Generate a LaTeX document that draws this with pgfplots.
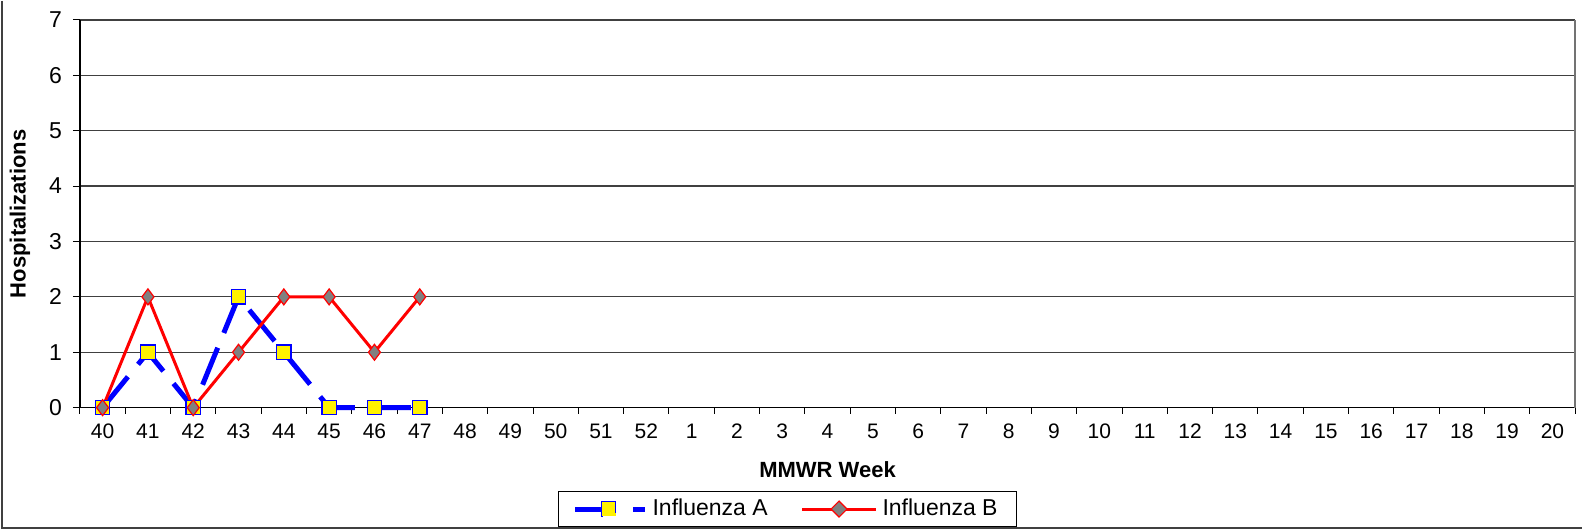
\documentclass[border=0pt]{standalone}
\usepackage{pgfplots}
\pgfplotsset{compat=1.18}
\usepackage{fontspec}
\setmainfont{Liberation Sans}
\begin{document}
\begin{tikzpicture}
\path (-40pt,-61pt) rectangle (751.5pt,203.5pt);
\draw[black!75, line width=0.9pt] (-39pt,203.5pt) -- (-39pt,-60pt) -- (751.5pt,-60pt);
\begin{axis}[
  at={(0,0)}, anchor=south west,
  scale only axis, width=748pt, height=194pt,
  xmin=-0.5, xmax=32.5, ymin=0, ymax=7,
  axis lines*=left, axis line style={-, black, line width=0.6pt},
  xtick={0,...,32},
  xticklabels={40,41,42,43,44,45,46,47,48,49,50,51,52,1,2,3,4,5,6,7,8,9,10,11,12,13,14,15,16,17,18,19,20},
  minor xtick={-0.5,0.5,...,32.5},
  ytick={0,...,7},
  tick align=outside,
  major tick length=3.5pt, minor tick length=3pt,
  major x tick style={draw=none},
  minor x tick style={black, line width=0.5pt},
  major y tick style={black, line width=0.5pt},
  ymajorgrids, major grid style={black!75, line width=0.6pt},
  /pgf/number format/assume math mode=true,
  xticklabel style={font=\fontsize{10.5}{12}\selectfont, yshift=-1pt},
  yticklabel style={font=\fontsize{11.5}{13}\selectfont, xshift=-2pt},
  xlabel={\textbf{MMWR Week}},
  ylabel={\textbf{Hospitalizations}},
  label style={font=\fontsize{11}{13}\selectfont},
  xlabel style={at={(axis description cs:0.5,0)}, anchor=center, yshift=-31pt},
  ylabel style={at={(axis description cs:0,0.5)}, anchor=center, yshift=30pt},
  legend columns=2,
  legend style={at={(axis description cs:0.4733,-0.2139)}, anchor=north,
    draw=black, line width=0.6pt, font=\fontsize{11.5}{14}\selectfont,
    inner xsep=7pt, inner ysep=2pt,
    nodes={inner xsep=2.5pt},
    /tikz/every even column/.append style={column sep=14pt}},
  clip=false,
]
\draw[black!55, line width=0.8pt] (axis cs:32.5,0) -- (axis cs:32.5,7);
\addplot[blue, line width=2.5pt, dash pattern=on 20pt off 8pt,
  mark=square*, mark size=3.6pt,
  mark options={solid, fill=yellow, draw=blue, line width=0.6pt},
  legend image code/.code={
    \draw[blue, line width=2.5pt] (0pt,0pt) -- (20pt,0pt);
    \draw[blue, line width=2.5pt] (29pt,0pt) -- (35pt,0pt);
    \draw[fill=yellow, draw=blue, line width=0.6pt] (13pt,-3.6pt) rectangle (20.2pt,3.6pt);
  }]
  coordinates {(0,0) (1,1) (2,0) (3,2) (4,1) (5,0) (6,0) (7,0)};
\addlegendentry{Influenza A}
\addplot[red, line width=1.5pt,
  mark=diamond*, mark size=4pt,
  mark options={solid, fill=gray, draw=red, line width=0.6pt},
  legend image code/.code={
    \draw[red, line width=1.5pt] (0pt,0pt) -- (37pt,0pt);
    \draw[fill=gray, draw=red, line width=0.6pt] (18.5pt,-4pt) -- (22.5pt,0pt) -- (18.5pt,4pt) -- (14.5pt,0pt) -- cycle;
  }]
  coordinates {(0,0) (1,2) (2,0) (3,1) (4,2) (5,2) (6,1) (7,2)};
\addlegendentry{Influenza B}
\end{axis}
\end{tikzpicture}
\end{document}
